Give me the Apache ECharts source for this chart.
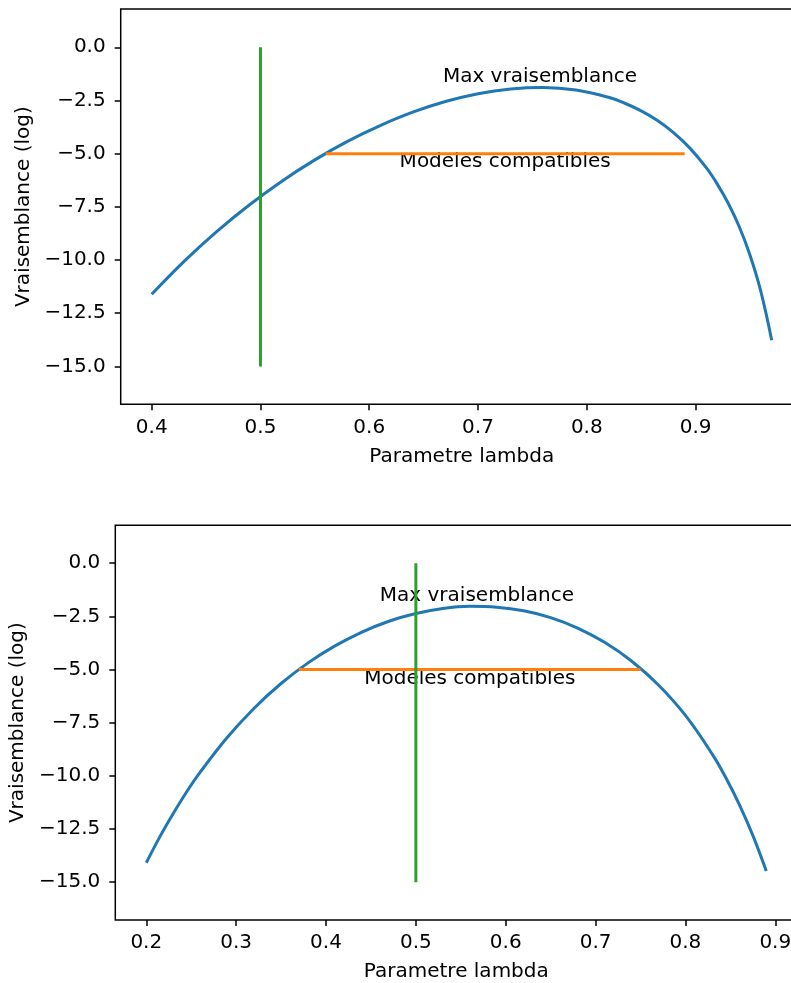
<!DOCTYPE html>
<html>
<head>
<meta charset="utf-8">
<script src="https://cdn.jsdelivr.net/npm/echarts@6/dist/echarts.min.js"></script>
<style>
  html, body { margin: 0; padding: 0; background: #fff; overflow: hidden; }
  /* plus large que la fenetre : le bord droit des axes sort du cadre comme dans l'original */
  #chart { width: 840px; height: 983px; }
</style>
</head>
<body>
<div id="chart"></div>
<script>
// haut : vraisemblance (log) en fonction de lambda
const topLambda = [0.40, 0.43, 0.46, 0.49, 0.52, 0.55, 0.58, 0.61, 0.64, 0.67, 0.70,
  0.73, 0.76, 0.79, 0.82, 0.835, 0.85, 0.865, 0.88, 0.895, 0.91, 0.92, 0.93, 0.94, 0.95, 0.96, 0.97];
const topLogLik = [-11.61, -10.05, -8.65, -7.40, -6.28, -5.29, -4.42, -3.68, -3.05, -2.55, -2.18,
  -1.96, -1.89, -2.01, -2.35, -2.63, -2.99, -3.44, -4.02, -4.75, -5.67, -6.43, -7.33, -8.41, -9.76, -11.47, -13.77];
const topCompatX = [0.56, 0.89];
const topMarker = 0.5;

// bas
const botLambda = [0.20, 0.215, 0.23, 0.245, 0.26, 0.29, 0.32, 0.35, 0.38, 0.41, 0.44, 0.47, 0.50, 0.53,
  0.56, 0.59, 0.62, 0.65, 0.68, 0.71, 0.74, 0.77, 0.80, 0.83, 0.845, 0.86, 0.875, 0.89];
const botLogLik = [-14.09, -12.87, -11.77, -10.75, -9.83, -8.20, -6.82, -5.66, -4.69, -3.89, -3.24, -2.73, -2.37, -2.13,
  -2.03, -2.07, -2.24, -2.56, -3.05, -3.72, -4.60, -5.73, -7.16, -8.99, -10.09, -11.35, -12.80, -14.48];
const botCompatX = [0.37, 0.75];
const botMarker = 0.5;

const compatLevel = -5;
const markerRange = [-15, 0];

const xTicksTop = [0.4, 0.5, 0.6, 0.7, 0.8, 0.9];
const xTicksBot = [0.2, 0.3, 0.4, 0.5, 0.6, 0.7, 0.8, 0.9];
const yTicks = [-15, -12.5, -10, -7.5, -5, -2.5, 0];

// textes (coordonnees des donnees)
const noteNames = ['Max vraisemblance', 'Modeles compatibles'];
const topNoteX = [0.757, 0.725];
const topNoteY = [-1.40, -5.39];
const botNoteX = [0.568, 0.56];
const botNoteY = [-1.54, -5.42];

const FONT = 'DejaVu Sans';
const FS = 20;

function fmt(v) {
  return (v < 0 ? '\u2212' : '') + Math.abs(v).toFixed(1);
}

function xAxisOpt(idx, min, max, ticks) {
  return {
    type: 'value', gridIndex: idx, min: min, max: max,
    name: 'Parametre lambda', nameLocation: 'middle', nameGap: 42,
    nameTextStyle: { fontFamily: FONT, fontSize: FS, color: '#000' },
    axisLine: { show: false, onZero: false },
    axisTick: { show: true, length: 6, customValues: ticks, lineStyle: { color: '#000', width: 1.5 } },
    axisLabel: { customValues: ticks, formatter: fmt, margin: 13, fontFamily: FONT, fontSize: FS, color: '#000' },
    splitLine: { show: false }
  };
}

function yAxisOpt(idx, min, max, gap) {
  return {
    type: 'value', gridIndex: idx, min: min, max: max,
    name: 'Vraisemblance (log)', nameLocation: 'middle', nameGap: gap,
    nameTextStyle: { fontFamily: FONT, fontSize: FS, color: '#000' },
    axisLine: { show: false, onZero: false },
    axisTick: { show: true, length: 6, customValues: yTicks, lineStyle: { color: '#000', width: 1.5 } },
    axisLabel: { customValues: yTicks, formatter: fmt, margin: 15, fontFamily: FONT, fontSize: FS, color: '#000' },
    splitLine: { show: false }
  };
}

function pairs(xs, ys) {
  return xs.map((x, i) => [x, ys[i]]);
}

function panelSeries(idx, lam, ll, compat, marker, nx, ny) {
  return [
    { type: 'line', xAxisIndex: idx, yAxisIndex: idx, data: pairs(lam, ll), smooth: 0.4,
      showSymbol: false, lineStyle: { color: '#1f77b4', width: 3 } },
    { type: 'line', xAxisIndex: idx, yAxisIndex: idx, data: compat.map(x => [x, compatLevel]),
      showSymbol: false, lineStyle: { color: '#ff7f0e', width: 3 } },
    { type: 'line', xAxisIndex: idx, yAxisIndex: idx, data: markerRange.map(y => [marker, y]),
      showSymbol: false, lineStyle: { color: '#2ca02c', width: 3 } },
    { type: 'scatter', xAxisIndex: idx, yAxisIndex: idx, symbolSize: 1,
      itemStyle: { color: 'rgba(0,0,0,0)', opacity: 1 },
      data: noteNames.map((n, i) => ({ name: n, value: [nx[i], ny[i]] })),
      label: { show: true, position: 'inside', formatter: p => p.name,
        fontFamily: FONT, fontSize: FS, color: '#000', opacity: 1 } }
  ];
}

const chart = echarts.init(document.getElementById('chart'), null, { renderer: 'canvas' });
chart.setOption({
  animation: false,
  backgroundColor: '#fff',
  grid: [
    { left: 120.7, top: 9, width: 682, height: 395.3, show: true, borderColor: '#000', borderWidth: 1.5, containLabel: false },
    { left: 115.3, top: 525.3, width: 682, height: 395.4, show: true, borderColor: '#000', borderWidth: 1.5, containLabel: false }
  ],
  xAxis: [
    xAxisOpt(0, 0.3715, 0.9985, xTicksTop),
    xAxisOpt(1, 0.1655, 0.9245, xTicksBot)
  ],
  yAxis: [
    yAxisOpt(0, -16.78, 1.80, 84),
    yAxisOpt(1, -16.78, 1.78, 84)
  ],
  series: [].concat(
    panelSeries(0, topLambda, topLogLik, topCompatX, topMarker, topNoteX, topNoteY),
    panelSeries(1, botLambda, botLogLik, botCompatX, botMarker, botNoteX, botNoteY)
  )
});
</script>
</body>
</html>
